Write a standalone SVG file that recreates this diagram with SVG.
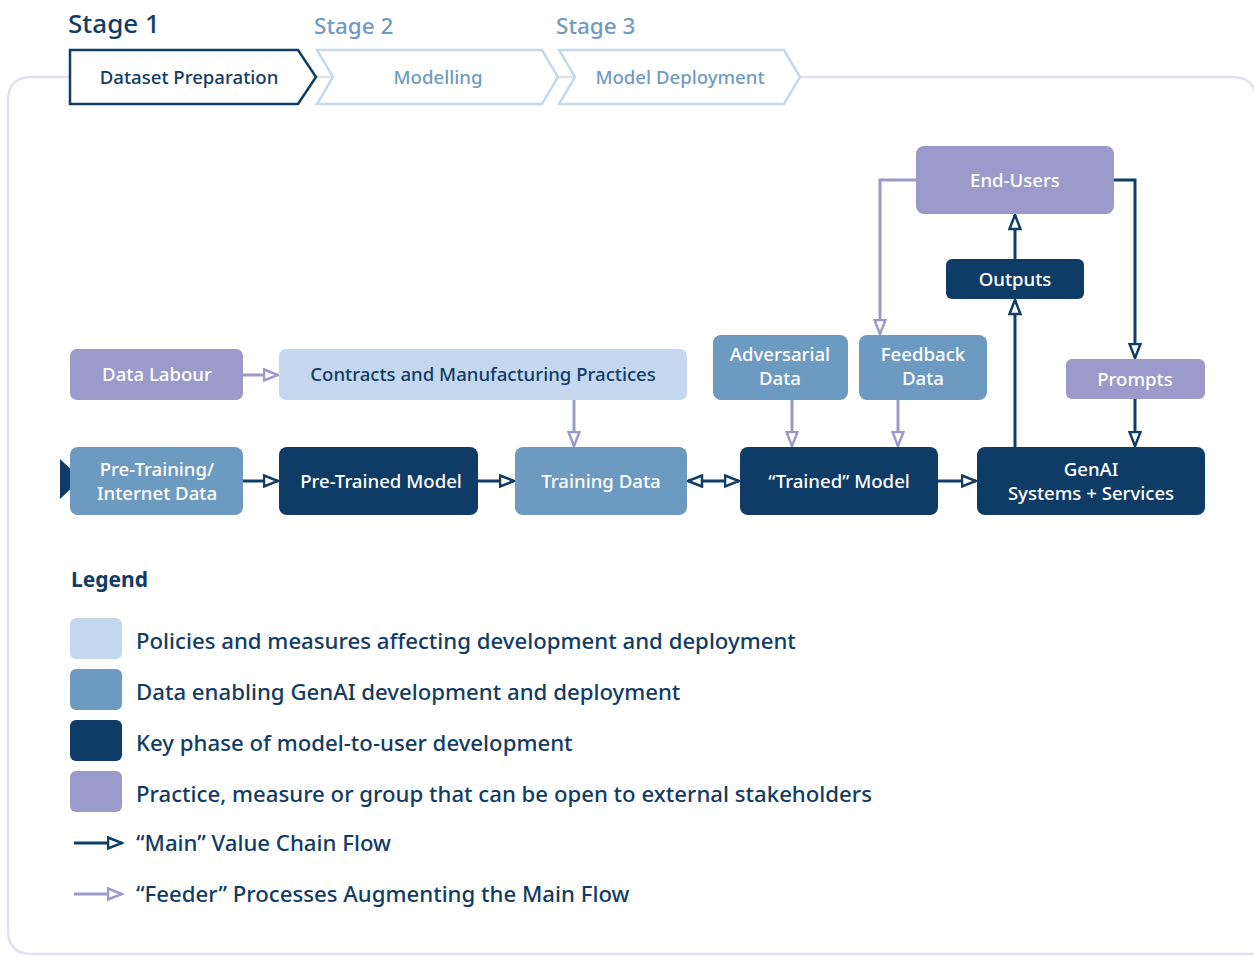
<svg xmlns="http://www.w3.org/2000/svg" width="1254" height="957" viewBox="0 0 1254 957">
  <style>
    text { font-family: "Noto Sans", "Open Sans", sans-serif; font-weight: 500; }
    .frame { fill: none; stroke: #e2e1f0; stroke-width: 2.5; }
    .stage-on { font-size: 26px; fill: #123c63; }
    .stage-off { font-size: 22.5px; fill: #6f9bc3; }
    .chev-on { fill: #ffffff; stroke: #0f3d66; stroke-width: 2.5; stroke-linejoin: miter; }
    .chev-off { fill: #ffffff; stroke: #c4d9ee; stroke-width: 2.5; stroke-linejoin: miter; }
    .chev-label-on { font-size: 18.6px; fill: #123c63; text-anchor: middle; }
    .chev-label-off { font-size: 18.6px; fill: #6f9bc3; text-anchor: middle; }
    .policy { fill: #c3d8ee; }
    .data { fill: #6d9ac0; }
    .key { fill: #0e3c66; }
    .open { fill: #9c99cb; }
    .lbl { font-size: 18.6px; fill: #ffffff; text-anchor: middle; }
    .lbl-dark { font-size: 18.6px; fill: #123c63; text-anchor: middle; }
    .main { fill: none; stroke: #0f3d66; stroke-width: 3; marker-end: url(#arrow-main); }
    .feeder { fill: none; stroke: #9c99cb; stroke-width: 3; marker-end: url(#arrow-feeder); }
    .legend-title { font-size: 21px; font-weight: 700; fill: #123c63; }
    .legend-text { font-size: 22.2px; fill: #123c63; }
  </style>
  <defs>
    <marker id="arrow-main" viewBox="0 0 17 14" refX="15.5" refY="7" markerWidth="17" markerHeight="14" markerUnits="userSpaceOnUse" orient="auto-start-reverse">
      <path d="M1.5,1.5 L15.5,7 L1.5,12.5 Z" fill="#ffffff" stroke="#0f3d66" stroke-width="2.5" stroke-linejoin="miter"/>
    </marker>
    <marker id="arrow-feeder" viewBox="0 0 17 14" refX="15.5" refY="7" markerWidth="17" markerHeight="14" markerUnits="userSpaceOnUse" orient="auto-start-reverse">
      <path d="M1.5,1.5 L15.5,7 L1.5,12.5 Z" fill="#ffffff" stroke="#9c99cb" stroke-width="2.5" stroke-linejoin="miter"/>
    </marker>
  </defs>

  <rect width="1254" height="957" fill="#ffffff"/>

  <!-- outer frame -->
  <path class="frame" d="M70,77 L32,77 Q8,77 8,101 L8,930 Q8,954 32,954 L1256,954 M800,77 L1232,77 Q1256,77 1256,101"/>
  <line class="frame" x1="316" y1="77" x2="332" y2="77"/>
  <line class="frame" x1="558" y1="77" x2="574" y2="77"/>

  <!-- stage header -->
  <g id="stage-1">
    <text class="stage-on" x="68" y="33">Stage 1</text>
    <path class="chev-on" d="M70,50 L298,50 L316,77 L298,104 L70,104 Z"/>
    <text class="chev-label-on" x="189" y="84">Dataset Preparation</text>
  </g>
  <g id="stage-2">
    <text class="stage-off" x="314" y="34">Stage 2</text>
    <path class="chev-off" d="M317,50 L542,50 L558,77 L542,104 L317,104 L333,77 Z"/>
    <text class="chev-label-off" x="438" y="84">Modelling</text>
  </g>
  <g id="stage-3">
    <text class="stage-off" x="556" y="34">Stage 3</text>
    <path class="chev-off" d="M559,50 L784,50 L800,77 L784,104 L559,104 L575,77 Z"/>
    <text class="chev-label-off" x="680" y="84">Model Deployment</text>
  </g>

  <!-- connectors -->
  <g id="connectors">
    <path class="feeder" d="M243,375 L278,375"/>
    <path class="main" d="M243,481 L278,481"/>
    <path class="main" d="M478,481 L514,481"/>
    <path class="main" d="M688,481 L739,481" marker-start="url(#arrow-main)"/>
    <path class="main" d="M938,481 L976,481"/>
    <path class="feeder" d="M574,400 L574,446"/>
    <path class="feeder" d="M792,400 L792,446"/>
    <path class="feeder" d="M898,400 L898,446"/>
    <path class="main" d="M1135,399 L1135,446"/>
    <path class="main" d="M1015,447 L1015,300"/>
    <path class="main" d="M1015,259 L1015,215"/>
    <path class="main" d="M1114,180 L1135,180 L1135,358"/>
    <path class="feeder" d="M916,180 L880,180 L880,334"/>
  </g>

  <!-- nodes -->
  <g id="data-labour">
    <rect class="open" x="70" y="349" width="173" height="51" rx="7"/>
    <text class="lbl" x="157" y="381">Data Labour</text>
  </g>
  <g id="contracts">
    <rect class="policy" x="279" y="349" width="408" height="51" rx="7"/>
    <text class="lbl-dark" x="483" y="381">Contracts and Manufacturing Practices</text>
  </g>
  <g id="pre-training-data">
    <path class="key" d="M60,459 L81,479 L60,499 Z"/>
    <rect class="data" x="70" y="447" width="173" height="68" rx="8"/>
    <text class="lbl" x="157" y="476">Pre-Training/</text>
    <text class="lbl" x="157" y="500">Internet Data</text>
  </g>
  <g id="pre-trained-model">
    <rect class="key" x="279" y="447" width="199" height="68" rx="8"/>
    <text class="lbl" x="381" y="488">Pre-Trained Model</text>
  </g>
  <g id="training-data">
    <rect class="data" x="515" y="447" width="172" height="68" rx="8"/>
    <text class="lbl" x="601" y="488">Training Data</text>
  </g>
  <g id="trained-model">
    <rect class="key" x="740" y="447" width="198" height="68" rx="8"/>
    <text class="lbl" x="839" y="488">“Trained” Model</text>
  </g>
  <g id="genai-systems">
    <rect class="key" x="977" y="447" width="228" height="68" rx="8"/>
    <text class="lbl" x="1091" y="476">GenAI</text>
    <text class="lbl" x="1091" y="500">Systems + Services</text>
  </g>
  <g id="adversarial-data">
    <rect class="data" x="713" y="335" width="135" height="65" rx="8"/>
    <text class="lbl" x="780" y="361">Adversarial</text>
    <text class="lbl" x="780" y="385">Data</text>
  </g>
  <g id="feedback-data">
    <rect class="data" x="859" y="335" width="128" height="65" rx="8"/>
    <text class="lbl" x="923" y="361">Feedback</text>
    <text class="lbl" x="923" y="385">Data</text>
  </g>
  <g id="prompts">
    <rect class="open" x="1066" y="359" width="139" height="40" rx="6"/>
    <text class="lbl" x="1135" y="386">Prompts</text>
  </g>
  <g id="outputs">
    <rect class="key" x="946" y="259" width="138" height="40" rx="6"/>
    <text class="lbl" x="1015" y="286">Outputs</text>
  </g>
  <g id="end-users">
    <rect class="open" x="916" y="146" width="198" height="68" rx="8"/>
    <text class="lbl" x="1015" y="187">End-Users</text>
  </g>

  <!-- legend -->
  <g id="legend">
    <text class="legend-title" x="71" y="587">Legend</text>
    <rect class="policy" x="70" y="618" width="52" height="41" rx="6"/>
    <text class="legend-text" x="136" y="649">Policies and measures affecting development and deployment</text>
    <rect class="data" x="70" y="669" width="52" height="41" rx="6"/>
    <text class="legend-text" x="136" y="700">Data enabling GenAI development and deployment</text>
    <rect class="key" x="70" y="720" width="52" height="41" rx="6"/>
    <text class="legend-text" x="136" y="751">Key phase of model-to-user development</text>
    <rect class="open" x="70" y="771" width="52" height="41" rx="6"/>
    <text class="legend-text" x="136" y="802">Practice, measure or group that can be open to external stakeholders</text>
    <path class="main" d="M74,843 L122,843"/>
    <text class="legend-text" x="136" y="851">“Main” Value Chain Flow</text>
    <path class="feeder" d="M74,894 L122,894"/>
    <text class="legend-text" x="136" y="902">“Feeder” Processes Augmenting the Main Flow</text>
  </g>
</svg>
